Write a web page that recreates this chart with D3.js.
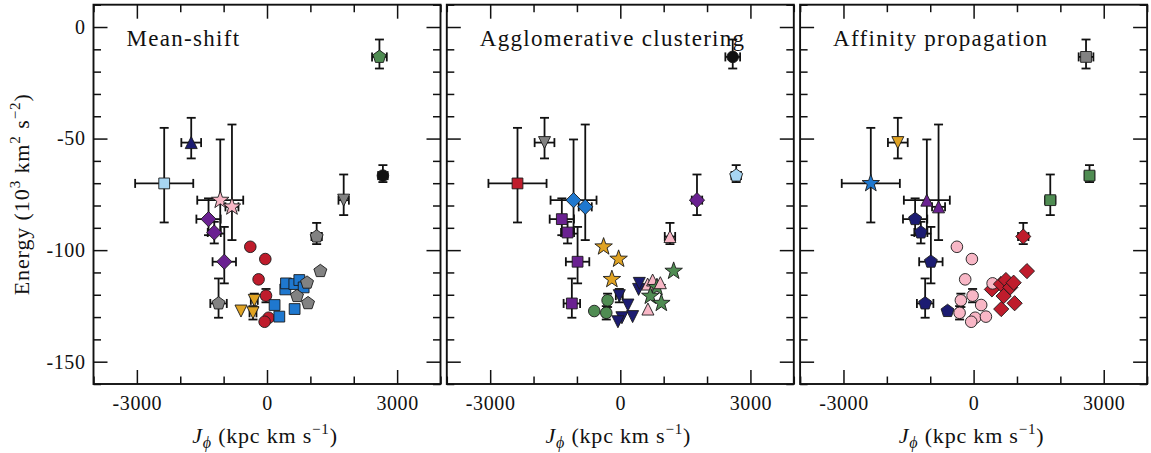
<!DOCTYPE html>
<html>
<head>
<meta charset="utf-8">
<script src="https://cdn.jsdelivr.net/npm/d3@7"></script>
<style>
  html, body { margin: 0; padding: 0; background: #fff; }
  svg { display: block; }
  text { font-family: "Liberation Serif", "Times New Roman", serif; fill: #111; }
</style>
</head>
<body>
<svg id="chart" width="1151" height="453" font-family="Liberation Serif, serif"></svg>
<script>
// ---------- data (same objects in every panel, different cluster labels) ----------
const panelTitles = ["Mean-shift", "Agglomerative clustering", "Affinity propagation"];
const xTicks = [-3000, 0, 3000];
const yTicks = [0, -50, -100, -150];

const jphi   = [-2370, -1747, -1078, -808, -1348, -1216, -985, -1117, 1768, 1145, 2672, 2592,
                -385, -39, -194, -23, 37, -55,
                -293, -600, -323,
                422, 438, 630, 745, 845, 175, 284, 637,
                923, 692, 946, 1230];
const energy = [-70.1, -51.8, -77.6, -80.6, -86.1, -92.1, -105.2, -123.9, -77.6, -93.9, -66.6, -13.4,
                -98.5, -104.0, -113.1, -120.4, -130.3, -132.1,
                -122.5, -127.3, -128.1,
                -117.6, -114.9, -115.2, -113.4, -116.7, -124.6, -129.8, -126.4,
                -114.6, -120.6, -123.8, -109.4];
const jErr   = [670, 228, 530, 150, 280, 150, 270, 190, 120, 120, 110, 170,
                0, 0, 0, 80, 0, 0,
                80, 0, 80,
                0, 0, 0, 0, 0, 0, 0, 0,
                0, 0, 0, 0];
const eErrUp = [24.9, 11.1, 27.2, 36.9, 9.3, 4.8, 15.6, 11.2, 11.5, 6.1, 4.7, 7.8,
                0, 0, 0, 3, 0, 0,
                3, 0, 3,
                0, 0, 0, 0, 0, 0, 0, 0,
                0, 0, 0, 0];
const eErrDown = [17.5, 7.1, 15.0, 14.9, 7.2, 4.9, 9.7, 6.4, 6.7, 3.4, 2.9, 5.2,
                0, 0, 0, 3, 0, 0,
                3, 0, 3,
                0, 0, 0, 0, 0, 0, 0, 0,
                0, 0, 0, 0];

// cluster labels per panel
const meanShiftLabels = [0, 1, 2, 2, 3, 3, 3, 4, 5, 4, 6, 7,
                8, 8, 8, 8, 8, 8,
                9, 9, 9,
                10, 10, 10, 10, 10, 10, 10, 10,
                4, 4, 4, 4];
const agglomerativeLabels = [0, 1, 2, 2, 3, 3, 3, 3, 4, 5, 6, 7,
                8, 8, 8, 9, 9, 9,
                10, 10, 10,
                9, 9, 5, 5, 11, 9, 9, 5,
                5, 11, 11, 11];
const affinityLabels = [0, 1, 2, 2, 3, 3, 3, 3, 4, 5, 4, 6,
                7, 7, 7, 7, 7, 7,
                7, 3, 7,
                5, 7, 5, 5, 5, 7, 7, 5,
                5, 5, 5, 5];

// ---------- styles ----------
const C = {
  red: "#bf1c2c", blue: "#1f78cf", navy: "#1c1c72", purple: "#6a2191",
  green: "#4f8c52", gray: "#828282", orange: "#e0a323", pink: "#f8b7c6",
  lightblue: "#a7d5f2", black: "#111111"
};
const meanShiftStyles = [
  [C.lightblue, "square"], [C.navy, "triUp"], [C.pink, "star"], [C.purple, "diamond"],
  [C.gray, "pentagon"], [C.gray, "triDown"], [C.black, "circle"], [C.green, "pentagon"],
  [C.red, "circle"], [C.orange, "triDown"], [C.blue, "square"]
];
const agglomerativeStyles = [
  [C.red, "square"], [C.gray, "triDown"], [C.blue, "diamond"], [C.purple, "square"],
  [C.purple, "diamond"], [C.pink, "triUp"], [C.lightblue, "pentagon"], [C.black, "circle"],
  [C.orange, "star"], [C.navy, "triDown"], [C.green, "circle"], [C.green, "star"]
];
const affinityStyles = [
  [C.blue, "star"], [C.orange, "triDown"], [C.purple, "triUp"], [C.navy, "pentagon"],
  [C.green, "square"], [C.red, "diamond"], [C.gray, "square"], [C.pink, "circle"]
];

const panels = [
  { title: panelTitles[0], labels: meanShiftLabels, styles: meanShiftStyles },
  { title: panelTitles[1], labels: agglomerativeLabels, styles: agglomerativeStyles },
  { title: panelTitles[2], labels: affinityLabels, styles: affinityStyles }
];

// ---------- custom marker shapes for d3.symbol (size = r^2) ----------
function poly(ctx, pts) {
  ctx.moveTo(pts[0][0], pts[0][1]);
  for (let i = 1; i < pts.length; i++) ctx.lineTo(pts[i][0], pts[i][1]);
  ctx.closePath();
}
const shapes = {
  circle:  { r: 5.8, type: { draw(c, s) { const r = Math.sqrt(s); c.moveTo(r, 0); c.arc(0, 0, r, 0, 2 * Math.PI); } } },
  square:  { r: 5.4, type: { draw(c, s) { const r = Math.sqrt(s); poly(c, [[-r, -r], [r, -r], [r, r], [-r, r]]); } } },
  diamond: { r: 7.6, type: { draw(c, s) { const r = Math.sqrt(s); poly(c, [[0, -r], [r, 0], [0, r], [-r, 0]]); } } },
  triUp:   { r: 6.0, type: { draw(c, s) { const r = Math.sqrt(s); poly(c, [[0, -r], [r, r], [-r, r]]); } } },
  triDown: { r: 6.0, type: { draw(c, s) { const r = Math.sqrt(s); poly(c, [[0, r], [r, -r], [-r, -r]]); } } },
  pentagon:{ r: 6.8, type: { draw(c, s) { const r = Math.sqrt(s); const p = [];
             for (let i = 0; i < 5; i++) { const a = -Math.PI / 2 + i * 2 * Math.PI / 5; p.push([r * Math.cos(a), r * Math.sin(a)]); }
             poly(c, p); } } },
  star:    { r: 9.2, type: { draw(c, s) { const r = Math.sqrt(s), ri = r * 0.40; const p = [];
             for (let i = 0; i < 10; i++) { const a = -Math.PI / 2 + i * Math.PI / 5; const rr = i % 2 ? ri : r; p.push([rr * Math.cos(a), rr * Math.sin(a)]); }
             poly(c, p); } } }
};

// ---------- layout ----------
const SERIF = '"Liberation Serif", "Times New Roman", serif';
const svg = d3.select("#chart");
const panelW = 347, panelTop = 4.7, panelBottom = 384;
const panelLeft = [93.5, 446.8, 800.1];
const majorLen = 14, minorLen = 7.5;
const capHalf = 4.5;

const yScale = d3.scaleLinear().domain([-160, 10]).range([panelBottom, panelTop]);
const yMinor = d3.range(-160, 11, 10).filter(v => v % 50 !== 0);
const xMinorVals = d3.range(-4000, 4001, 1000).filter(v => v % 3000 !== 0);

panels.forEach((p, pi) => {
  const x0 = panelLeft[pi];
  const xScale = d3.scaleLinear().domain([-4000, 4000]).range([x0, x0 + panelW]);
  const g = svg.append("g");

  // axes (ticks inward on all four sides)
  function styleAxis(sel) {
    sel.attr("font-family", SERIF).attr("font-size", 20);
    sel.select(".domain").remove();
    sel.selectAll(".tick line").attr("stroke", "#111").attr("stroke-width", 1.5);
    sel.selectAll("text").attr("font-size", 20).attr("fill", "#111")
      .style("font-family", SERIF).style("letter-spacing", "0.6px");
  }
  g.append("g").attr("transform", `translate(0,${panelBottom})`)
    .call(d3.axisBottom(xScale).tickValues(xTicks).tickSize(-majorLen).tickPadding(12).tickFormat(d3.format("d")))
    .call(styleAxis);
  g.append("g").attr("transform", `translate(0,${panelBottom})`)
    .call(d3.axisBottom(xScale).tickValues(xMinorVals).tickSize(-minorLen).tickFormat(""))
    .call(styleAxis);
  g.append("g").attr("transform", `translate(0,${panelTop})`)
    .call(d3.axisTop(xScale).tickValues(xTicks).tickSize(-majorLen).tickFormat(""))
    .call(styleAxis);
  g.append("g").attr("transform", `translate(0,${panelTop})`)
    .call(d3.axisTop(xScale).tickValues(xMinorVals).tickSize(-minorLen).tickFormat(""))
    .call(styleAxis);
  g.append("g").attr("transform", `translate(${x0},0)`)
    .call(d3.axisLeft(yScale).tickValues(yTicks).tickSize(-majorLen).tickPadding(8)
      .tickFormat(pi === 0 ? d3.format("d") : ""))
    .call(styleAxis);
  g.append("g").attr("transform", `translate(${x0},0)`)
    .call(d3.axisLeft(yScale).tickValues(yMinor).tickSize(-minorLen).tickFormat(""))
    .call(styleAxis);
  g.append("g").attr("transform", `translate(${x0 + panelW},0)`)
    .call(d3.axisRight(yScale).tickValues(yTicks).tickSize(-majorLen).tickFormat(""))
    .call(styleAxis);
  g.append("g").attr("transform", `translate(${x0 + panelW},0)`)
    .call(d3.axisRight(yScale).tickValues(yMinor).tickSize(-minorLen).tickFormat(""))
    .call(styleAxis);

  // hyphen-minus in tick labels like the reference
  g.selectAll(".tick text").text(function () { return this.textContent.replace("\u2212", "-"); });

  // frame
  g.append("rect").attr("x", x0).attr("y", panelTop).attr("width", panelW)
    .attr("height", panelBottom - panelTop).attr("fill", "none")
    .attr("stroke", "#111").attr("stroke-width", 1.9);

  // title
  g.append("text").attr("x", x0 + 33).attr("y", 45.5).style("font-family", SERIF)
    .attr("font-size", 23).style("letter-spacing", "1.3px").text(p.title);

  // x label
  const xl = g.append("text").attr("x", x0 + panelW / 2 - 2).attr("y", 443)
    .attr("text-anchor", "middle").attr("font-size", 22).style("font-family", SERIF)
    .style("letter-spacing", "0.8px");
  xl.append("tspan").attr("font-style", "italic").text("J");
  xl.append("tspan").attr("font-style", "italic").attr("font-size", 16).attr("dy", 5).text("\u03d5");
  xl.append("tspan").attr("dy", -5).text(" (kpc km s");
  xl.append("tspan").attr("font-size", 15).attr("dy", -9).text("\u22121");
  xl.append("tspan").attr("dy", 9).text(")");

  // data
  const idx = d3.range(jphi.length);
  const eb = g.append("g").attr("stroke", "#111").attr("stroke-width", 1.8).attr("fill", "none");
  idx.forEach(i => {
    const cx = xScale(jphi[i]), cy = yScale(energy[i]);
    if (jErr[i] > 0) {
      const xa = xScale(jphi[i] - jErr[i]), xb = xScale(jphi[i] + jErr[i]);
      eb.append("line").attr("x1", xa).attr("x2", xb).attr("y1", cy).attr("y2", cy);
      eb.append("line").attr("x1", xa).attr("x2", xa).attr("y1", cy - capHalf).attr("y2", cy + capHalf);
      eb.append("line").attr("x1", xb).attr("x2", xb).attr("y1", cy - capHalf).attr("y2", cy + capHalf);
    }
    if (eErrUp[i] > 0 || eErrDown[i] > 0) {
      const ya = yScale(energy[i] + eErrUp[i]), yb = yScale(energy[i] - eErrDown[i]);
      eb.append("line").attr("x1", cx).attr("x2", cx).attr("y1", ya).attr("y2", yb);
      eb.append("line").attr("x1", cx - capHalf).attr("x2", cx + capHalf).attr("y1", ya).attr("y2", ya);
      eb.append("line").attr("x1", cx - capHalf).attr("x2", cx + capHalf).attr("y1", yb).attr("y2", yb);
    }
  });

  g.append("g").selectAll("path").data(idx).join("path")
    .attr("transform", i => `translate(${xScale(jphi[i])},${yScale(energy[i])})`)
    .attr("d", i => {
      const sh = shapes[p.styles[p.labels[i]][1]];
      return d3.symbol().type(sh.type).size(sh.r * sh.r)();
    })
    .attr("fill", i => p.styles[p.labels[i]][0])
    .attr("stroke", "#1a1a1a").attr("stroke-width", 0.9);
});

// y label
const yl = svg.append("text")
  .attr("transform", `translate(29,${(panelTop + panelBottom) / 2}) rotate(-90)`)
  .attr("text-anchor", "middle").attr("font-size", 22).style("font-family", SERIF)
  .style("letter-spacing", "0.9px");
yl.append("tspan").text("Energy (10");
yl.append("tspan").attr("font-size", 15).attr("dy", -9).text("3");
yl.append("tspan").attr("dy", 9).text(" km");
yl.append("tspan").attr("font-size", 15).attr("dy", -9).text("2");
yl.append("tspan").attr("dy", 9).text(" s");
yl.append("tspan").attr("font-size", 15).attr("dy", -9).text("\u22122");
yl.append("tspan").attr("dy", 9).text(")");
</script>
</body>
</html>
